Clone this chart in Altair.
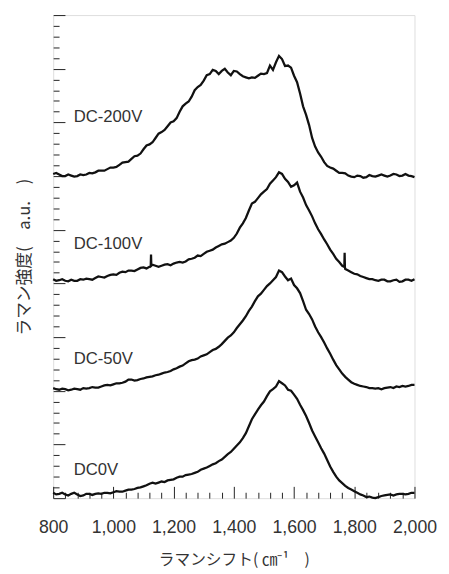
import altair as alt
import pandas as pd

# Raman shift grid (cm-1), 10 cm-1 step
shift = list(range(800, 2001, 10))

dc200 = [6.04, 6.06, 6.03, 6.00, 6.00, 6.03, 6.01, 5.99, 6.00, 6.03,
         6.02, 6.03, 6.06, 6.05, 6.07, 6.10, 6.10, 6.10, 6.13, 6.16,
         6.16, 6.17, 6.21, 6.25, 6.26, 6.27, 6.32, 6.37, 6.38, 6.42,
         6.50, 6.57, 6.59, 6.63, 6.71, 6.79, 6.82, 6.86, 6.93, 7.00,
         7.02, 7.08, 7.20, 7.30, 7.35, 7.39, 7.48, 7.60, 7.66, 7.70,
         7.78, 7.88, 7.90, 7.98, 7.96, 7.90, 7.96, 8.00, 7.93, 7.88,
         7.96, 7.95, 7.90, 7.86, 7.84, 7.82, 7.84, 7.83, 7.87, 7.91,
         7.90, 7.92, 8.06, 7.98, 8.12, 8.24, 8.18, 8.05, 8.06, 8.02,
         7.87, 7.75, 7.54, 7.30, 7.14, 6.95, 6.71, 6.55, 6.44, 6.36,
         6.26, 6.19, 6.16, 6.14, 6.10, 6.06, 6.06, 6.05, 6.01, 5.99,
         5.98, 6.01, 6.00, 5.97, 5.98, 6.02, 6.00, 5.99, 6.01, 6.03,
         6.01, 5.99, 6.01, 6.04, 6.03, 6.00, 6.01, 6.04, 6.01, 6.00,
         5.98]
dc200_spikes = []

dc100 = [4.08, 4.05, 4.06, 4.08, 4.05, 4.04, 4.07, 4.05, 4.05, 4.08,
         4.07, 4.09, 4.08, 4.07, 4.10, 4.13, 4.12, 4.11, 4.14, 4.16,
         4.17, 4.16, 4.20, 4.22, 4.21, 4.24, 4.24, 4.23, 4.26, 4.29,
         4.30, 4.28, 4.31, 4.35, 4.33, 4.31, 4.33, 4.35, 4.36, 4.34,
         4.37, 4.39, 4.40, 4.39, 4.41, 4.45, 4.46, 4.48, 4.52, 4.51,
         4.55, 4.59, 4.61, 4.63, 4.67, 4.70, 4.73, 4.74, 4.77, 4.80,
         4.85, 4.93, 5.04, 5.12, 5.22, 5.36, 5.49, 5.52, 5.59, 5.66,
         5.71, 5.76, 5.86, 5.92, 5.98, 6.07, 6.04, 5.95, 5.89, 5.80,
         5.83, 5.88, 5.71, 5.60, 5.46, 5.36, 5.25, 5.12, 5.01, 4.92,
         4.82, 4.73, 4.63, 4.55, 4.46, 4.40, 4.33, 4.27, 4.24, 4.21,
         4.18, 4.17, 4.14, 4.12, 4.10, 4.08, 4.08, 4.06, 4.05, 4.07,
         4.07, 4.04, 4.04, 4.06, 4.07, 4.03, 4.04, 4.07, 4.07, 4.05,
         4.08]
dc100_spikes = [(1124, 4.32), (1125, 4.54), (1126, 4.33),
                (1767, 4.31), (1768, 4.57), (1769, 4.30)]

dc50 = [2.05, 2.03, 2.02, 2.04, 2.03, 2.01, 2.02, 2.04, 2.03, 2.02,
        2.05, 2.04, 2.05, 2.07, 2.06, 2.06, 2.08, 2.10, 2.11, 2.10,
        2.12, 2.14, 2.14, 2.15, 2.17, 2.21, 2.21, 2.19, 2.20, 2.22,
        2.23, 2.25, 2.26, 2.27, 2.29, 2.30, 2.32, 2.34, 2.35, 2.37,
        2.40, 2.42, 2.45, 2.47, 2.51, 2.55, 2.57, 2.58, 2.60, 2.64,
        2.66, 2.68, 2.72, 2.76, 2.78, 2.82, 2.87, 2.93, 2.99, 3.03,
        3.09, 3.17, 3.24, 3.31, 3.39, 3.49, 3.57, 3.67, 3.76, 3.81,
        3.88, 3.95, 4.00, 4.06, 4.12, 4.24, 4.21, 4.13, 4.06, 4.09,
        3.97, 3.91, 3.82, 3.67, 3.51, 3.43, 3.33, 3.20, 3.09, 3.00,
        2.90, 2.79, 2.69, 2.58, 2.48, 2.40, 2.32, 2.26, 2.21, 2.16,
        2.13, 2.11, 2.09, 2.08, 2.07, 2.05, 2.05, 2.04, 2.05, 2.03,
        2.05, 2.06, 2.07, 2.05, 2.08, 2.07, 2.09, 2.08, 2.09, 2.11,
        2.11]
dc50_spikes = []

dc0 = [0.10, 0.07, 0.08, 0.10, 0.07, 0.05, 0.08, 0.10, 0.07, 0.04,
       0.05, 0.08, 0.08, 0.06, 0.08, 0.09, 0.08, 0.10, 0.10, 0.09,
       0.11, 0.13, 0.12, 0.12, 0.14, 0.16, 0.16, 0.17, 0.19, 0.20,
       0.22, 0.24, 0.27, 0.29, 0.27, 0.29, 0.31, 0.30, 0.33, 0.34,
       0.35, 0.38, 0.40, 0.40, 0.43, 0.44, 0.45, 0.47, 0.49, 0.53,
       0.55, 0.57, 0.60, 0.63, 0.65, 0.69, 0.72, 0.77, 0.82, 0.86,
       0.92, 0.98, 1.04, 1.12, 1.21, 1.34, 1.47, 1.56, 1.65, 1.73,
       1.80, 1.90, 1.99, 2.03, 2.08, 2.18, 2.14, 2.10, 2.02, 2.00,
       1.93, 1.85, 1.74, 1.64, 1.53, 1.40, 1.26, 1.15, 1.04, 0.93,
       0.83, 0.71, 0.59, 0.49, 0.40, 0.33, 0.28, 0.23, 0.19, 0.16,
       0.13, 0.10, 0.07, 0.05, 0.02, 0.03, 0.01, 0.00, 0.02, 0.04,
       0.05, 0.06, 0.07, 0.05, 0.07, 0.08, 0.08, 0.07, 0.08, 0.10,
       0.10]
dc0_spikes = []

series_names = ["DC-200V", "DC-100V", "DC-50V", "DC0V"]
label_x = [868, 868, 868, 868]
label_y = [7.10, 4.74, 2.59, 0.525]

x_labels = [800, 1000, 1200, 1400, 1600, 1800, 2000]
x_ticks = list(range(800, 2001, 40))
y_ticks = [round(i * 0.2, 1) for i in range(46)]

rows = []
for name, vals, extra in zip(series_names, [dc200, dc100, dc50, dc0],
                             [dc200_spikes, dc100_spikes, dc50_spikes, dc0_spikes]):
    pts = sorted(list(zip(shift, vals)) + extra)
    for xv, yv in pts:
        rows.append({"series": name, "shift": xv, "intensity": yv})
df = pd.DataFrame(rows)
labels = pd.DataFrame({"series": series_names, "shift": label_x, "intensity": label_y})

xscale = alt.Scale(domain=[800, 2000], nice=False, zero=False)
yscale = alt.Scale(domain=[0, 9], nice=False, zero=False)

TXT = "#333333"

lines = alt.Chart(df).mark_line(color="#111111", strokeWidth=2.3).encode(
    x=alt.X("shift:Q", scale=xscale,
            axis=alt.Axis(orient="bottom", values=x_labels, format=",d",
                          ticks=False, tickSize=0, domain=False, grid=False,
                          labelFlush=False, labelOverlap=False,
                          labelFont="Liberation Sans", labelFontSize=18,
                          labelColor=TXT, labelPadding=21,
                          title="ラマンシフト( ㎝⁻¹\u3000)", titleFont="Noto Sans CJK JP",
                          titleFontSize=16, titleFontWeight="normal",
                          titleColor=TXT, titlePadding=16)),
    y=alt.Y("intensity:Q", scale=yscale,
            axis=alt.Axis(orient="left", labels=False, ticks=False, domain=False,
                          grid=False, title="ラマン強度(\u3000a.u.\u3000)",
                          titleFont="Noto Sans CJK JP", titleFontSize=17,
                          titleFontWeight="normal", titleColor=TXT,
                          titlePadding=20)),
    detail="series:N",
)

text = alt.Chart(labels).mark_text(
    align="left", baseline="middle", font="Liberation Sans", fontSize=17, color=TXT
).encode(
    x=alt.X("shift:Q", scale=xscale,
            axis=alt.Axis(orient="top", offset=-492, values=x_ticks, labels=False,
                          domain=False, grid=False, title="",
                          tickColor="#222222", tickWidth=1,
                          tickSize={"condition": {"test": "datum.value % 200 === 0", "value": 12},
                                    "value": 6})),
    y=alt.Y("intensity:Q", scale=yscale,
            axis=alt.Axis(orient="right", offset=-368, values=y_ticks, labels=False,
                          domain=False, grid=False, title="",
                          tickColor="#222222", tickWidth=1,
                          tickSize={"condition": {"test": "abs(datum.value - round(datum.value)) < 0.001", "value": 12},
                                    "value": 6})),
    text="series:N",
)

chart = alt.layer(lines, text).resolve_axis(x="independent", y="independent").properties(
    width=368, height=492,
    autosize=alt.AutoSizeParams(type="none"),
    padding={"left": 46, "top": 2, "right": 27, "bottom": 70},
).configure_view(stroke="#222222", strokeWidth=1).configure(background="white")

chart.save("out.html", embed_options={"renderer": "svg", "actions": False})
